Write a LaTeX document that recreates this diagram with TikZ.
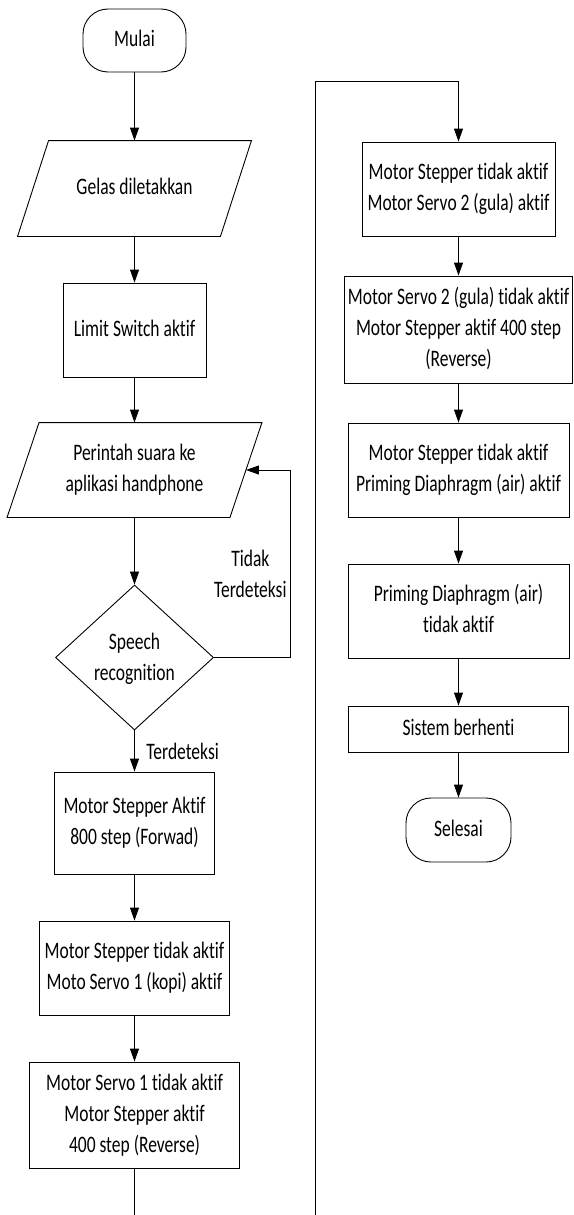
\documentclass[tikz,border=0pt]{standalone}
\usepackage{fontspec}
\setmainfont{Carlito}[Ligatures=NoCommon]
\usepackage{graphicx}
\usetikzlibrary{arrows.meta,shapes.geometric}
\newcommand{\vtxt}[1]{\scalebox{1}[1.35]{\begin{tabular}{@{}c@{}}#1\end{tabular}}}
\begin{document}
\begin{tikzpicture}[x=1pt,y=-1pt,
  line width=0.9pt,
  font=\fontsize{17.5}{23}\selectfont,
  box/.style={draw, rectangle, inner sep=0pt},
  term/.style={draw, rectangle, rounded corners=25pt, inner sep=0pt},
  plain/.style={inner sep=0pt},
  arr/.style={-{Triangle[length=13pt,width=9pt]}}]
\fill[white] (0,0) rectangle (573,1215);
\useasboundingbox (0,0) rectangle (573,1215);

% left column
\node[term, minimum width=103pt, minimum height=63pt] (start) at (134.5,40.5) {\vtxt{Mulai}};
\node[plain, minimum width=202pt, minimum height=95pt] (gelas) at (134.5,188.5) {\vtxt{Gelas diletakkan}};
\draw ([xshift=15.5pt]gelas.north west) -- ([xshift=15.5pt]gelas.north east) -- ([xshift=-15.5pt]gelas.south east) -- ([xshift=-15.5pt]gelas.south west) -- cycle;
\node[box, minimum width=143pt, minimum height=94pt] (limit) at (134.5,330) {\vtxt{Limit Switch aktif}};
\node[plain, minimum width=222pt, minimum height=94pt] (perintah) at (134.5,470) {\vtxt{Perintah suara ke\\aplikasi handphone}};
\draw ([xshift=16pt]perintah.north west) -- ([xshift=16pt]perintah.north east) -- ([xshift=-16pt]perintah.south east) -- ([xshift=-16pt]perintah.south west) -- cycle;
\node[draw, diamond, minimum width=158pt, minimum height=145pt, inner sep=0pt] (dec) at (134.5,657.5) {};
\node[plain] (dect) at (134.5,659) {\vtxt{Speech\\recognition}};
\node[box, minimum width=160pt, minimum height=102pt] (b1) at (134.5,823) {\vtxt{Motor Stepper Aktif\\800 step (Forwad)}};
\node[box, minimum width=190pt, minimum height=94pt] (b2) at (134.5,968) {\vtxt{Motor Stepper tidak aktif\\Moto Servo 1 (kopi) aktif}};
\node[box, minimum width=210pt, minimum height=106pt] (b3) at (134.5,1115) {\vtxt{Motor Servo 1 tidak aktif\\Motor Stepper aktif\\400 step (Reverse)}};

\node[plain, anchor=east] (no) at (287,576) {\vtxt{Tidak\\Terdeteksi}};
\node[plain, anchor=west] (yes) at (146,753) {\vtxt{Terdeteksi}};

% right column
\node[box, minimum width=193pt, minimum height=94pt] (r1) at (458.5,189) {\vtxt{Motor Stepper tidak aktif\\Motor Servo 2 (gula) aktif}};
\node[box, minimum width=228pt, minimum height=107pt] (r2) at (458.5,329.5) {\vtxt{Motor Servo 2 (gula) tidak aktif\\Motor Stepper aktif 400 step\\(Reverse)}};
\node[box, minimum width=221pt, minimum height=94pt] (r3) at (458.5,470) {\vtxt{Motor Stepper tidak aktif\\Priming Diaphragm (air) aktif}};
\node[box, minimum width=221pt, minimum height=94pt] (r4) at (458.5,611) {\vtxt{Priming Diaphragm (air)\\tidak aktif}};
\node[box, minimum width=220pt, minimum height=46pt] (r5) at (458.5,729) {\vtxt{Sistem berhenti}};
\node[term, minimum width=105pt, minimum height=64pt] (end) at (458.5,830) {\vtxt{Selesai}};

\coordinate (loopx) at (290,0);
\coordinate (botR) at (315,1215);
\coordinate (topR) at (315,81);

% connectors
\draw[arr] (start) -- (gelas);
\draw[arr] (gelas) -- (limit);
\draw[arr] (limit) -- (perintah);
\draw[arr] (perintah) -- (dec);
\draw[arr] (dec) -- (b1);
\draw[arr] (b1) -- (b2);
\draw[arr] (b2) -- (b3);
\draw (b3.south) -- (b3.south |- botR);
\draw[arr] (dec.east) -| (loopx |- perintah.east) -- (perintah.east);
\draw[arr] (botR) -- (topR) -| (r1.north);
\draw[arr] (r1) -- (r2);
\draw[arr] (r2) -- (r3);
\draw[arr] (r3) -- (r4);
\draw[arr] (r4) -- (r5);
\draw[arr] (r5) -- (end);
\end{tikzpicture}
\end{document}
